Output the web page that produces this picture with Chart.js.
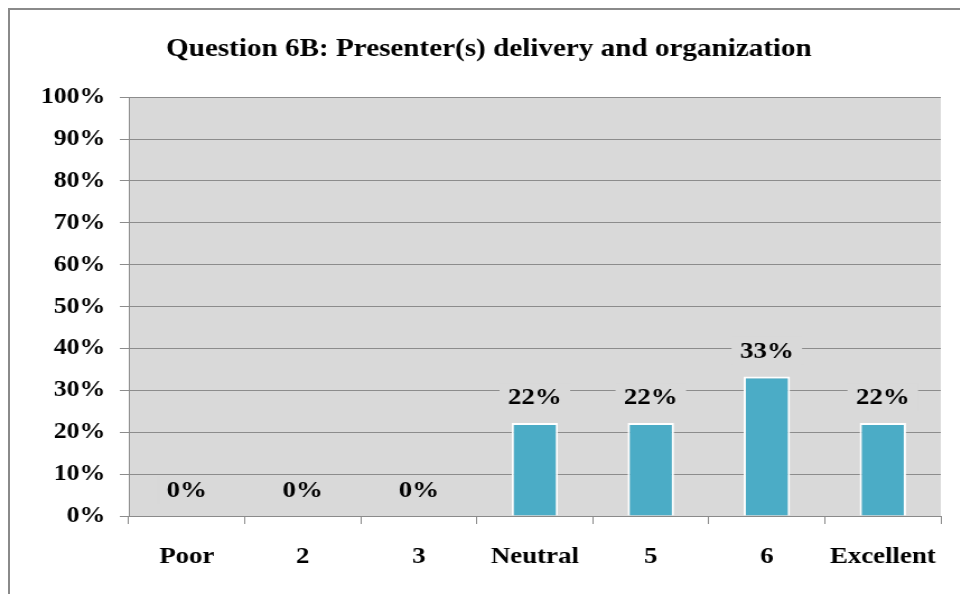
<!DOCTYPE html>
<html>
<head>
<meta charset="utf-8">
<script src="https://cdn.jsdelivr.net/npm/chart.js@4"></script>
<style>
  html, body { margin: 0; padding: 0; background: #fff; }
  #wrap { position: relative; width: 960px; height: 594px; overflow: hidden; }
  #frame { position: absolute; left: 8px; top: 8px; width: 1000px; height: 1000px;
           border-left: 2px solid #8a8a8a; border-top: 2px solid #8a8a8a; }
  /* the original picture is a little wider than tall, so the chart is drawn narrower and stretched */
  #stretch { position: absolute; left: 0; top: 0; width: 857px; height: 594px;
             transform: scaleX(1.12); transform-origin: 0 0; }
</style>
</head>
<body>
<div id="wrap">
  <div id="frame"></div>
  <div id="stretch"><canvas id="chart" width="857" height="594"></canvas></div>
</div>
<script>
const categories = ["Poor", "2", "3", "Neutral", "5", "6", "Excellent"];
const percents = [0, 0, 0, 22.2, 22.2, 33.3, 22.2];
const yTicks = [0, 10, 20, 30, 40, 50, 60, 70, 80, 90, 100];

const serif = "'Liberation Serif', 'Times New Roman', serif";
const plotGrey = "#d9d9d9";

// grey plot background
const plotBg = {
  id: "plotBg",
  beforeDraw(chart) {
    const a = chart.chartArea;
    chart.ctx.save();
    chart.ctx.fillStyle = plotGrey;
    chart.ctx.fillRect(a.left, a.top, a.right - a.left, a.bottom - a.top);
    chart.ctx.restore();
  }
};

// value labels above each bar, boxed in the plot colour so gridlines stop at them
const valueLabels = {
  id: "valueLabels",
  afterDatasetsDraw(chart) {
    const ctx = chart.ctx;
    const meta = chart.getDatasetMeta(0);
    ctx.save();
    ctx.font = "bold 24px " + serif;
    ctx.textAlign = "center";
    ctx.textBaseline = "middle";
    meta.data.forEach((bar, i) => {
      const txt = Math.round(percents[i]) + "%";
      const w = ctx.measureText(txt).width + 15;
      const cy = bar.y - 26;
      ctx.fillStyle = plotGrey;
      ctx.fillRect(bar.x - w / 2, cy - 14, w, 28);
      ctx.fillStyle = "#000";
      ctx.fillText(txt, bar.x, cy + 1);
    });
    ctx.restore();
  }
};

new Chart(document.getElementById("chart"), {
  type: "bar",
  data: {
    labels: categories,
    datasets: [{
      data: percents,
      backgroundColor: "#4bacc6",
      borderColor: "#ffffff",
      borderWidth: 2,
      categoryPercentage: 0.8,
      barPercentage: 0.5
    }]
  },
  options: {
    responsive: false,
    animation: false,
    layout: { padding: { left: 33, right: 17, top: 0, bottom: 0 } },
    plugins: {
      legend: { display: false },
      tooltip: { enabled: false },
      title: {
        display: true,
        text: "Question 6B: Presenter(s) delivery and organization",
        color: "#000",
        font: { family: serif, size: 26, weight: "bold", lineHeight: 1.2 },
        padding: { top: 34, bottom: 32 }
      }
    },
    scales: {
      x: {
        offset: true,
        grid: { offset: true, drawOnChartArea: false, drawTicks: true, tickLength: 8, color: "#8a8a8a" },
        border: { color: "#8a8a8a", width: 1 },
        ticks: { color: "#000", padding: 18, font: { family: serif, size: 24, weight: "bold" } },
        afterFit(scale) { scale.height = 78; }
      },
      y: {
        min: 0,
        max: 100,
        afterBuildTicks(scale) { scale.ticks = yTicks.map(v => ({ value: v })); },
        grid: { color: "#8c8c8c", tickLength: 8 },
        border: { color: "#8a8a8a", width: 1 },
        ticks: {
          color: "#000",
          padding: 13,
          font: { family: serif, size: 23, weight: "bold" },
          callback: v => v + "%"
        },
        afterFit(scale) { scale.width = 82; }
      }
    }
  },
  plugins: [plotBg, valueLabels]
});
</script>
</body>
</html>
